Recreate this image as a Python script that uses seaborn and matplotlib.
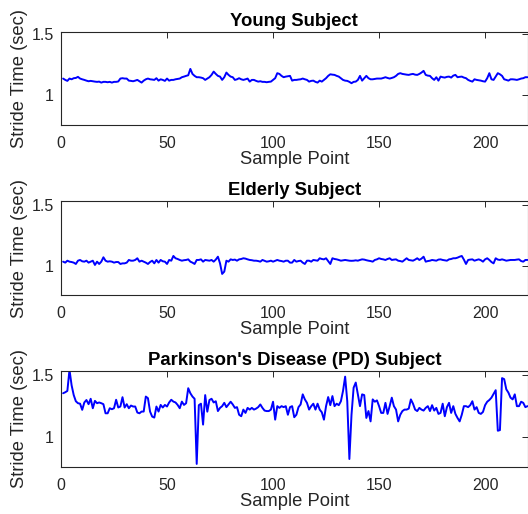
import matplotlib
matplotlib.use("Agg")
import matplotlib.pyplot as plt
import seaborn as sns
import pandas as pd
import numpy as np

sample_points = list(range(1, 221))

young = [
    1.134, 1.123, 1.115, 1.134, 1.128, 1.137, 1.139, 1.148, 1.134, 1.128,
    1.123, 1.117, 1.112, 1.115, 1.112, 1.109, 1.107, 1.109, 1.101, 1.107,
    1.107, 1.104, 1.107, 1.101, 1.107, 1.107, 1.110, 1.134, 1.137, 1.134,
    1.134, 1.117, 1.115, 1.112, 1.117, 1.123, 1.112, 1.101, 1.117, 1.128,
    1.134, 1.128, 1.126, 1.123, 1.137, 1.117, 1.128, 1.123, 1.115, 1.134,
    1.117, 1.123, 1.123, 1.128, 1.131, 1.134, 1.145, 1.150, 1.156, 1.161,
    1.213, 1.172, 1.156, 1.145, 1.145, 1.142, 1.137, 1.123, 1.134, 1.145,
    1.164, 1.191, 1.172, 1.156, 1.150, 1.123, 1.145, 1.183, 1.164, 1.150,
    1.145, 1.123, 1.128, 1.137, 1.128, 1.123, 1.128, 1.134, 1.109, 1.123,
    1.123, 1.115, 1.109, 1.112, 1.107, 1.107, 1.104, 1.107, 1.109, 1.123,
    1.137, 1.178, 1.172, 1.156, 1.145, 1.150, 1.153, 1.156, 1.117, 1.123,
    1.123, 1.126, 1.128, 1.134, 1.128, 1.123, 1.109, 1.115, 1.117, 1.107,
    1.101, 1.117, 1.109, 1.123, 1.137, 1.156, 1.169, 1.166, 1.164, 1.156,
    1.150, 1.137, 1.123, 1.117, 1.115, 1.107, 1.096, 1.107, 1.109, 1.123,
    1.156, 1.117, 1.137, 1.156, 1.137, 1.128, 1.128, 1.131, 1.134, 1.134,
    1.134, 1.139, 1.145, 1.139, 1.134, 1.139, 1.145, 1.156, 1.172, 1.178,
    1.172, 1.169, 1.166, 1.164, 1.169, 1.172, 1.166, 1.164, 1.172, 1.183,
    1.197, 1.164, 1.158, 1.156, 1.137, 1.123, 1.145, 1.117, 1.150, 1.145,
    1.142, 1.148, 1.150, 1.142, 1.158, 1.164, 1.145, 1.148, 1.150, 1.142,
    1.137, 1.123, 1.115, 1.109, 1.128, 1.123, 1.120, 1.117, 1.112, 1.109,
    1.137, 1.178, 1.128, 1.123, 1.150, 1.178, 1.169, 1.156, 1.128, 1.123,
    1.117, 1.128, 1.128, 1.126, 1.123, 1.128, 1.134, 1.137, 1.145, 1.145,
]

elderly = [
    1.033, 1.025, 1.041, 1.033, 1.030, 1.025, 1.014, 1.041, 1.047, 1.036,
    1.033, 1.041, 1.025, 1.033, 1.041, 1.006, 1.033, 1.014, 1.033, 1.069,
    1.041, 1.033, 1.036, 1.033, 1.025, 1.030, 1.030, 1.014, 1.019, 1.019,
    1.025, 1.047, 1.041, 1.041, 1.047, 1.061, 1.033, 1.041, 1.033, 1.025,
    1.014, 1.030, 1.041, 1.019, 1.047, 1.025, 1.047, 1.036, 1.033, 1.014,
    1.047, 1.041, 1.080, 1.061, 1.055, 1.047, 1.041, 1.045, 1.047, 1.052,
    1.033, 1.025, 1.014, 1.047, 1.047, 1.052, 1.033, 1.047, 1.044, 1.041,
    1.047, 1.033, 1.050, 1.074, 1.019, 0.932, 0.951, 1.041, 1.033, 1.052,
    1.047, 1.050, 1.041, 1.052, 1.055, 1.061, 1.058, 1.052, 1.047, 1.045,
    1.041, 1.041, 1.038, 1.033, 1.047, 1.040, 1.033, 1.036, 1.041, 1.033,
    1.040, 1.047, 1.041, 1.038, 1.033, 1.041, 1.041, 1.025, 1.025, 1.047,
    1.033, 1.038, 1.041, 1.025, 1.014, 1.041, 1.041, 1.033, 1.047, 1.044,
    1.041, 1.061, 1.055, 1.052, 1.061, 1.038, 1.014, 1.061, 1.055, 1.052,
    1.047, 1.041, 1.044, 1.047, 1.044, 1.041, 1.040, 1.041, 1.044, 1.041,
    1.047, 1.052, 1.050, 1.045, 1.041, 1.038, 1.033, 1.047, 1.052, 1.061,
    1.055, 1.052, 1.047, 1.055, 1.061, 1.047, 1.050, 1.052, 1.041, 1.038,
    1.033, 1.047, 1.061, 1.047, 1.044, 1.041, 1.050, 1.061, 1.047, 1.058,
    1.074, 1.033, 1.038, 1.041, 1.047, 1.044, 1.041, 1.050, 1.052, 1.047,
    1.044, 1.041, 1.052, 1.055, 1.061, 1.061, 1.066, 1.074, 1.080, 1.050,
    1.014, 1.047, 1.050, 1.052, 1.041, 1.047, 1.052, 1.045, 1.033, 1.052,
    1.061, 1.047, 1.030, 1.019, 1.061, 1.050, 1.047, 1.052, 1.047, 1.041,
    1.044, 1.047, 1.047, 1.047, 1.050, 1.052, 1.038, 1.033, 1.047, 1.047,
]

parkinson = [
    1.355, 1.363, 1.374, 1.546, 1.420, 1.340, 1.290, 1.274, 1.270, 1.220,
    1.280, 1.300, 1.266, 1.310, 1.233, 1.293, 1.274, 1.280, 1.274, 1.266,
    1.192, 1.192, 1.233, 1.225, 1.233, 1.302, 1.239, 1.247, 1.323, 1.239,
    1.266, 1.233, 1.255, 1.247, 1.247, 1.198, 1.192, 1.206, 1.206, 1.328,
    1.315, 1.206, 1.165, 1.157, 1.247, 1.206, 1.260, 1.239, 1.260, 1.247,
    1.280, 1.302, 1.287, 1.280, 1.260, 1.233, 1.287, 1.260, 1.274, 1.396,
    1.355, 1.328, 1.310, 0.780, 1.258, 1.270, 1.100, 1.340, 1.205, 1.300,
    1.310, 1.280, 1.290, 1.210, 1.236, 1.250, 1.277, 1.242, 1.264, 1.286,
    1.264, 1.236, 1.242, 1.180, 1.168, 1.222, 1.195, 1.236, 1.222, 1.236,
    1.222, 1.230, 1.242, 1.264, 1.236, 1.214, 1.210, 1.210, 1.222, 1.286,
    1.140, 1.250, 1.236, 1.250, 1.242, 1.250, 1.180, 1.242, 1.250, 1.160,
    1.180, 1.242, 1.264, 1.346, 1.305, 1.277, 1.222, 1.250, 1.270, 1.222,
    1.270, 1.222, 1.200, 1.140, 1.250, 1.324, 1.258, 1.332, 1.250, 1.270,
    1.258, 1.290, 1.374, 1.490, 1.290, 0.820, 1.180, 1.400, 1.442, 1.346,
    1.250, 1.346, 1.340, 1.154, 1.210, 1.126, 1.305, 1.286, 1.297, 1.250,
    1.195, 1.195, 1.277, 1.187, 1.250, 1.319, 1.250, 1.222, 1.126, 1.180,
    1.210, 1.222, 1.222, 1.230, 1.305, 1.270, 1.222, 1.210, 1.236, 1.222,
    1.214, 1.236, 1.250, 1.210, 1.258, 1.214, 1.236, 1.187, 1.195, 1.270,
    1.168, 1.242, 1.277, 1.195, 1.250, 1.187, 1.154, 1.126, 1.180, 1.250,
    1.250, 1.242, 1.258, 1.290, 1.222, 1.242, 1.195, 1.187, 1.203, 1.258,
    1.286, 1.300, 1.319, 1.350, 1.380, 1.050, 1.055, 1.478, 1.470, 1.387,
    1.360, 1.319, 1.305, 1.346, 1.250, 1.250, 1.286, 1.277, 1.242, 1.250,
]

titles = ["Young Subject", "Elderly Subject", "Parkinson's Disease (PD) Subject"]
x_ticks = [0, 50, 100, 150, 200]
y_ticks = [1, 1.5]
y_limits = [(0.754, 1.515), (0.756, 1.535), (0.755, 1.536)]
series = [young, elderly, parkinson]

sns.set_style("white")
plt.rcParams['font.family'] = ['Liberation Sans', 'DejaVu Sans']

W, H = 528, 514
fig = plt.figure(figsize=(W / 100, H / 100), dpi=100)
# axes boxes in pixel coords: (top, bottom)
boxes = [(32, 125), (200.7, 295.3), (371, 467)]
left_px, right_px = 61, 527.5
dark = "#262626"

for (top, bot), vals, title, ylim in zip(boxes, series, titles, y_limits):
    ax = fig.add_axes([left_px / W, 1 - bot / H, (right_px - left_px) / W, (bot - top) / H])
    df = pd.DataFrame({"Sample Point": sample_points, "Stride Time (sec)": vals})
    sns.lineplot(data=df, x="Sample Point", y="Stride Time (sec)", ax=ax,
                 color=(0, 0, 1), linewidth=1.4)
    ax.set_xlim(0, 220)
    ax.set_ylim(*ylim)
    ax.set_xticks(x_ticks)
    ax.set_yticks(y_ticks)
    ax.set_yticklabels(["1", "1.5"])
    ax.tick_params(direction="in", top=True, right=True, length=4, width=0.7,
                   colors=dark, labelsize=11.5)
    ax.tick_params(axis="x", pad=8)
    ax.tick_params(axis="y", pad=5)
    for sp in ax.spines.values():
        sp.set_color(dark)
        sp.set_linewidth(0.8)
        sp.set_visible(True)
    ax.set_xlabel("Sample Point", fontsize=13.2, color=dark, labelpad=0)
    ax.set_ylabel("Stride Time (sec)", fontsize=13.2, color=dark, labelpad=3)
    ax.set_title(title, fontsize=13.3, fontweight="bold", color="black", pad=4)

fig.savefig("out.png", dpi=100)
